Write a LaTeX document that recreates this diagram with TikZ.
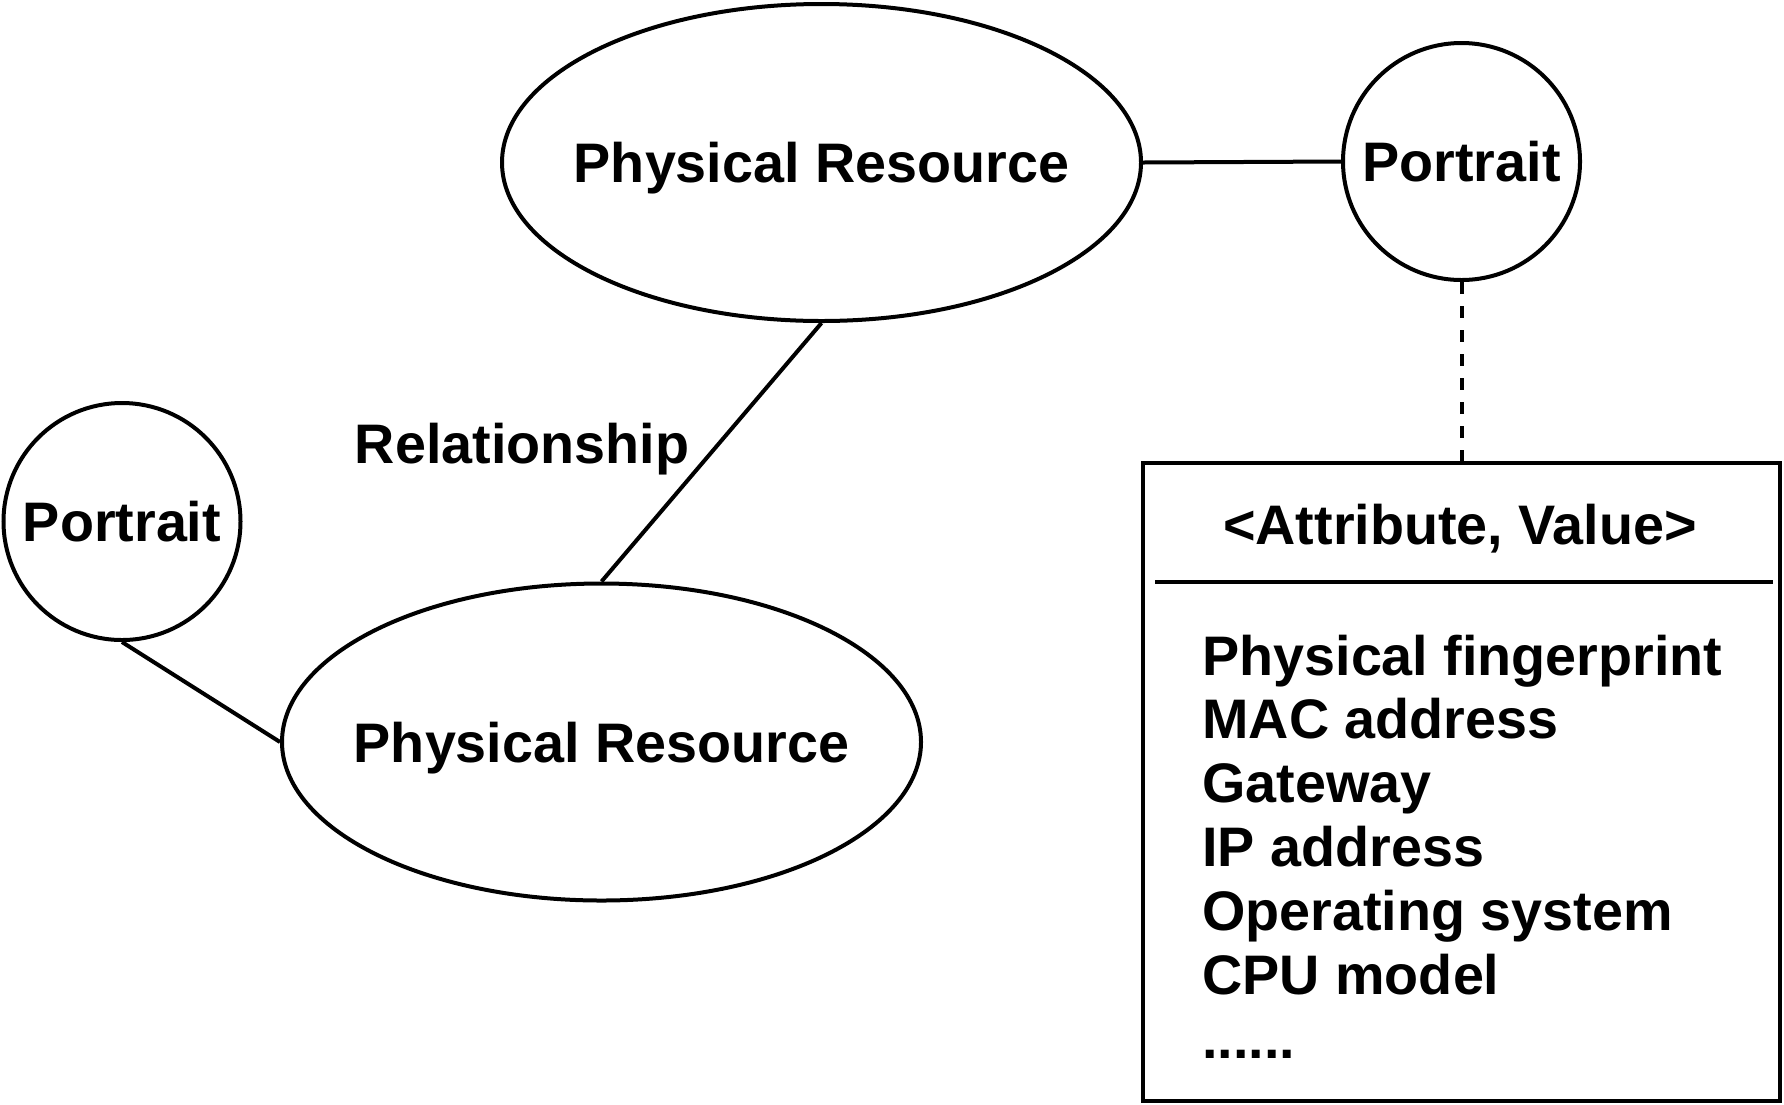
\documentclass[tikz,border=0pt]{standalone}
\usepackage{fontspec}
\setmainfont{Liberation Sans}
\usetikzlibrary{shapes.geometric}
\newcommand{\moredots}{......}

\begin{document}
\begin{tikzpicture}[x=1pt,y=-1pt,line width=4pt,
    every node/.style={font=\fontsize{55.7}{64}\selectfont\bfseries,text height=40pt,text depth=0pt},
    resource/.style={draw,ellipse,inner sep=0pt,minimum width=639pt,minimum height=317pt},
    portrait/.style={draw,circle,inner sep=0pt,minimum size=237pt}]
  \useasboundingbox (0,0) rectangle (1784,1104);
  % resources and their portraits
  \node[resource] (res1) at (821.5,162.5) {\makebox[0pt]{Physical Resource}};
  \node[resource] (res2) at (601.5,742) {\makebox[0pt]{Physical Resource}};
  \node[portrait] (por1) at (1461.5,161.5) {Portrait};
  \node[portrait] (por2) at (122,521.5) {Portrait};
  \node (rel) at (522,443.5) {Relationship};
  \draw (res1.east) -- (por1.west);
  \draw (res1.south) -- (res2.north);
  \draw (por2.south) -- (res2.west);
  % attribute box
  \node[draw,inner sep=0pt,minimum width=636.6pt,minimum height=638pt] (attr) at (1461.5,782) {};
  \node[anchor=base] (head) at (1460,544) {<Attribute, Value>};
  \draw (1155,581.6) -- (1773,581.6);
  \foreach \val [count=\i from 0] in {Physical fingerprint,MAC address,Gateway,IP address,Operating system,CPU model,\moredots}
    \node[anchor=base west,inner sep=0pt] (val\i) at (1200.4,675+63.9*\i) {\val};
  \draw[dash pattern=on 12pt off 12pt] (por1.south) -- (attr.north);
\end{tikzpicture}
\end{document}
